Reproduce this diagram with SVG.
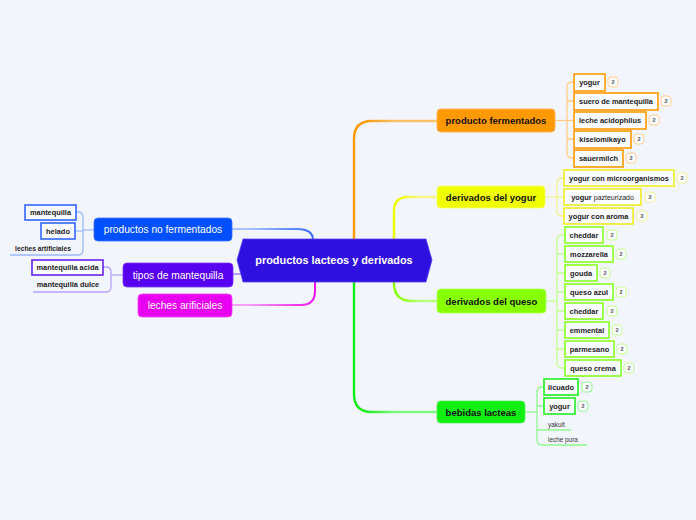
<svg xmlns="http://www.w3.org/2000/svg" width="696" height="520" viewBox="0 0 696 520">
<defs>
<linearGradient id="gO" gradientUnits="userSpaceOnUse" x1="354" y1="0" x2="437" y2="0"><stop offset="0.1" stop-color="#ff9900"/><stop offset="0.5" stop-color="#ffc36a"/></linearGradient>
<linearGradient id="gY" gradientUnits="userSpaceOnUse" x1="394" y1="0" x2="437" y2="0"><stop offset="0.1" stop-color="#eeff00"/><stop offset="0.6" stop-color="#f5f58a"/></linearGradient>
<linearGradient id="gL" gradientUnits="userSpaceOnUse" x1="394" y1="0" x2="437" y2="0"><stop offset="0.1" stop-color="#88ff00"/><stop offset="0.6" stop-color="#b8ff80"/></linearGradient>
<linearGradient id="gG" gradientUnits="userSpaceOnUse" x1="354" y1="0" x2="437" y2="0"><stop offset="0.1" stop-color="#11ee11"/><stop offset="0.5" stop-color="#80f880"/></linearGradient>
<linearGradient id="gB" gradientUnits="userSpaceOnUse" x1="232" y1="0" x2="313" y2="0"><stop offset="0.2" stop-color="#a8c4ff"/><stop offset="1" stop-color="#3a6cff"/></linearGradient>
<linearGradient id="gM" gradientUnits="userSpaceOnUse" x1="232" y1="0" x2="315" y2="0"><stop offset="0.2" stop-color="#f6a0f8"/><stop offset="1" stop-color="#ee11ee"/></linearGradient>
</defs>
<style>
.t{font-family:"Liberation Sans",Arial,sans-serif}
.pr{font-family:"Liberation Sans",Arial,sans-serif;font-size:9.5px;font-weight:bold;fill:#111;text-anchor:middle}
.pl{font-family:"Liberation Sans",Arial,sans-serif;font-size:10.2px;fill:#fff;text-anchor:middle}
.c{font-family:"Liberation Sans",Arial,sans-serif;font-size:7.4px;font-weight:bold;fill:#222;text-anchor:middle}
.cb{fill:#fbfcff;stroke-width:1.6}
.bd{fill:#fbfcff;stroke-width:1}
.bt{font-family:"Liberation Sans",Arial,sans-serif;font-size:5.5px;font-weight:bold;fill:#555;text-anchor:middle}
.ln{fill:none;stroke-linecap:round}
.o{stroke:#ff9900}.y{stroke:#eeee22}.l{stroke:#88ff22}.g{stroke:#22ee22}.b{stroke:#3366ff}.p{stroke:#6622ee}
.ob{stroke:#ffcc88}.yb{stroke:#f2f290}.lb{stroke:#c4ff90}.gb{stroke:#90f890}
</style>
<rect width="696" height="520" fill="#f3f5fd"/>

<g id="connectors">
<path class="ln" d="M354,240 V139 Q354,121 372,121 H437" stroke="url(#gO)" stroke-width="2.4"/>
<path class="ln" d="M394,240 V211 Q394,197 408,197 H437" stroke="url(#gY)" stroke-width="2.4"/>
<path class="ln" d="M394,282 V283 Q394,301 412,301 H437" stroke="url(#gL)" stroke-width="2.4"/>
<path class="ln" d="M354,282 V394 Q354,412 372,412 H437" stroke="url(#gG)" stroke-width="2.4"/>
<path class="ln" d="M232,229 H297 Q313,229 313,240" stroke="url(#gB)" stroke-width="2"/>
<path class="ln" d="M233,274 H240" stroke="#b8a0ff" stroke-width="2"/>
<path class="ln" d="M315,282 V291 Q315,305 301,305 H232" stroke="url(#gM)" stroke-width="2"/>

<g stroke="#ffcc88" stroke-width="1.3" fill="none">
<path d="M555,120.5 H574"/>
<path d="M574,82 H572 Q567,82 567,87 V153 Q567,158 572,158 H574"/>
<path d="M567,101 H574 M567,139 H574"/>
</g>
<g stroke="#f2f290" stroke-width="1.3" fill="none">
<path d="M545,197 H564"/>
<path d="M564,178 H562 Q557,178 557,183 V211 Q557,216 562,216 H564"/>
</g>
<g stroke="#c4ff90" stroke-width="1.3" fill="none">
<path d="M546,301 H557"/>
<path d="M565,235 H562 Q557,235 557,240 V363 Q557,368 562,368 H565"/>
<path d="M557,254 H565 M557,273 H565 M557,292 H565 M557,311 H565 M557,330 H565 M557,349 H565"/>
</g>
<g stroke="#90f890" stroke-width="1.3" fill="none">
<path d="M525,412 H537"/>
<path d="M544,387 H542 Q537,387 537,392 V440 Q537,445 542,445 H587"/>
<path d="M537,406 H544 M537,430 H571"/>
</g>
<g stroke="#9cb8ff" stroke-width="1.3" fill="none">
<path d="M94,230 H83"/>
<path d="M76,212 H78 Q83,212 83,217 V250 Q83,255 78,255 H10"/>
<path d="M83,231 H75"/>
</g>
<g stroke="#b8a0ff" stroke-width="1.3" fill="none">
<path d="M123,275 H111"/>
<path d="M103,267 H106 Q111,267 111,272 V287 Q111,292 106,292 H33"/>
</g>
</g>

<g id="central">
<polygon points="243,239 426,239 432,260 426,282 243,282 237,260" fill="#3010e0" stroke="#5a40f0" stroke-width="0.8"/>
<text x="334" y="264" class="t" font-size="10.9" font-weight="bold" fill="#fff" text-anchor="middle">productos lacteos y derivados</text>
</g>

<g id="producto-fermentados">
<rect x="437" y="109" width="118" height="23" rx="4" fill="#ff9900" stroke="#ffb040" stroke-width="0.8"/>
<text x="496" y="124" class="pr">producto fermentados</text>
</g>
<g id="pf-yogur"><rect class="cb o" x="574" y="74" width="31" height="17"/><text class="c" x="589.5" y="85">yogur</text><rect class="bd ob" x="608" y="77" width="10" height="10" rx="3"/><text class="bt" x="613" y="84">2</text></g>
<g id="pf-suero"><rect class="cb o" x="574" y="93" width="84" height="17"/><text class="c" x="616" y="104">suero de mantequilla</text><rect class="bd ob" x="661" y="96" width="10" height="10" rx="3"/><text class="bt" x="666" y="103">2</text></g>
<g id="pf-leche"><rect class="cb o" x="574" y="112" width="72" height="17"/><text class="c" x="610" y="123">leche acidophilus</text><rect class="bd ob" x="649" y="115" width="10" height="10" rx="3"/><text class="bt" x="654" y="122">2</text></g>
<g id="pf-kiselo"><rect class="cb o" x="574" y="131" width="57" height="17"/><text class="c" x="602.5" y="142">kiselomikayo</text><rect class="bd ob" x="634" y="134" width="10" height="10" rx="3"/><text class="bt" x="639" y="141">2</text></g>
<g id="pf-sauer"><rect class="cb o" x="574" y="150" width="49" height="17"/><text class="c" x="598.5" y="161">sauermilch</text><rect class="bd ob" x="626" y="153" width="10" height="10" rx="3"/><text class="bt" x="631" y="160">2</text></g>

<g id="derivados-yogur">
<rect x="437" y="186" width="108" height="22" rx="4" fill="#f0ff00" stroke="#f6ff60" stroke-width="0.8"/>
<text x="491" y="200.5" class="pr">derivados del yogur</text>
</g>
<g id="dy-micro"><rect class="cb y" x="564" y="170" width="110" height="16"/><text class="c" x="619" y="180.6">yogur con microorganismos</text><rect class="bd yb" x="677" y="173" width="10" height="10" rx="3"/><text class="bt" x="682" y="180">2</text></g>
<g id="dy-pazt"><rect class="cb y" x="564" y="189" width="77" height="16"/><text class="c" x="602.5" y="199.6">yogur <tspan font-weight="normal" font-size="7" dy="0.8">pazteurizado</tspan></text><rect class="bd yb" x="645" y="192" width="10" height="10" rx="3"/><text class="bt" x="650" y="199">2</text></g>
<g id="dy-aroma"><rect class="cb y" x="564" y="208" width="69" height="16"/><text class="c" x="598.5" y="218.6">yogur con aroma</text><rect class="bd yb" x="637" y="211" width="10" height="10" rx="3"/><text class="bt" x="642" y="218">2</text></g>

<g id="derivados-queso">
<rect x="437" y="289" width="109" height="24" rx="4" fill="#88ff00" stroke="#a8ff50" stroke-width="0.8"/>
<text x="491.5" y="304.5" class="pr">derivados del queso</text>
</g>
<g id="dq-cheddar1"><rect class="cb l" x="565" y="227" width="38" height="16"/><text class="c" x="584" y="237.6">cheddar</text><rect class="bd lb" x="607" y="230" width="10" height="10" rx="3"/><text class="bt" x="612" y="237">2</text></g>
<g id="dq-mozzarella"><rect class="cb l" x="565" y="246" width="48" height="16"/><text class="c" x="589" y="256.6">mozzarella</text><rect class="bd lb" x="616" y="249" width="10" height="10" rx="3"/><text class="bt" x="621" y="256">2</text></g>
<g id="dq-gouda"><rect class="cb l" x="565" y="265" width="32" height="16"/><text class="c" x="581" y="275.6">gouda</text><rect class="bd lb" x="600" y="268" width="10" height="10" rx="3"/><text class="bt" x="605" y="275">2</text></g>
<g id="dq-azul"><rect class="cb l" x="565" y="284" width="48" height="16"/><text class="c" x="589" y="294.6">queso azul</text><rect class="bd lb" x="616" y="287" width="10" height="10" rx="3"/><text class="bt" x="621" y="294">2</text></g>
<g id="dq-cheddar2"><rect class="cb l" x="565" y="303" width="38" height="16"/><text class="c" x="584" y="313.6">cheddar</text><rect class="bd lb" x="607" y="306" width="10" height="10" rx="3"/><text class="bt" x="612" y="313">2</text></g>
<g id="dq-emmental"><rect class="cb l" x="565" y="322" width="44" height="16"/><text class="c" x="587" y="332.6">emmental</text><rect class="bd lb" x="612" y="325" width="10" height="10" rx="3"/><text class="bt" x="617" y="332">2</text></g>
<g id="dq-parmesano"><rect class="cb l" x="565" y="341" width="49" height="16"/><text class="c" x="589.5" y="351.6">parmesano</text><rect class="bd lb" x="617" y="344" width="10" height="10" rx="3"/><text class="bt" x="622" y="351">2</text></g>
<g id="dq-crema"><rect class="cb l" x="565" y="360" width="56" height="16"/><text class="c" x="593" y="370.6">queso crema</text><rect class="bd lb" x="624" y="363" width="10" height="10" rx="3"/><text class="bt" x="629" y="370">2</text></g>

<g id="bebidas-lacteas">
<rect x="437" y="401" width="88" height="22" rx="4" fill="#11ee11" stroke="#50f450" stroke-width="0.8"/>
<text x="481" y="415.5" class="pr">bebidas lacteas</text>
</g>
<g id="bl-licuado"><rect class="cb g" x="544" y="379" width="34" height="16"/><text class="c" x="561" y="389.6">licuado</text><rect class="bd gb" x="582" y="382" width="10" height="10" rx="3"/><text class="bt" x="587" y="389">2</text></g>
<g id="bl-yogur"><rect class="cb g" x="544" y="398" width="31" height="16"/><text class="c" x="559.5" y="408.6">yogur</text><rect class="bd gb" x="578" y="401" width="10" height="10" rx="3"/><text class="bt" x="583" y="408">2</text></g>
<g id="bl-yakult"><text class="t" x="548" y="426.5" font-size="6.4" fill="#333">yakult</text></g>
<g id="bl-leche"><text class="t" x="548" y="442" font-size="6.4" fill="#333">leche pura</text></g>

<g id="productos-no-fermentados">
<rect x="94" y="218" width="138" height="23" rx="4" fill="#0050ff" stroke="#3a72ff" stroke-width="0.8"/>
<text x="163" y="233.2" class="pl">productos no fermentados</text>
</g>
<g id="pnf-mantequilla"><rect class="cb b" x="25" y="205" width="51" height="15"/><text class="c" x="50.5" y="215.2">mantequilla</text></g>
<g id="pnf-helado"><rect class="cb b" x="41" y="223" width="34" height="16"/><text class="c" x="58" y="233.6">helado</text></g>
<g id="pnf-leches"><text class="t" x="43" y="251" font-size="6.7" font-weight="bold" fill="#222" text-anchor="middle">leches artificiales</text></g>

<g id="tipos-mantequilla">
<rect x="123" y="263" width="110" height="24" rx="4" fill="#5800f0" stroke="#7a38f4" stroke-width="0.8"/>
<text x="178" y="278.6" class="pl">tipos de mantequilla</text>
</g>
<g id="tm-acida"><rect class="cb p" x="32" y="260" width="71" height="15"/><text class="c" x="67.5" y="270.2">mantequilla acida</text></g>
<g id="tm-dulce"><text class="c" x="68" y="287">mantequilla dulce</text></g>

<g id="leches-arificiales">
<rect x="138" y="294" width="94" height="23" rx="4" fill="#e800f0" stroke="#f040f4" stroke-width="0.8"/>
<text x="185" y="309.2" class="pl">leches arificiales</text>
</g>
</svg>
